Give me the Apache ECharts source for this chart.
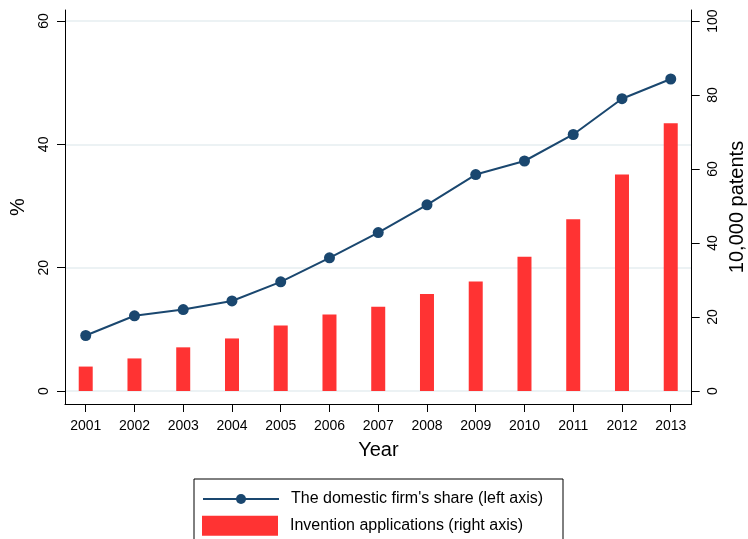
<!DOCTYPE html>
<html>
<head>
<meta charset="utf-8">
<script src="https://cdn.jsdelivr.net/npm/echarts@6/dist/echarts.min.js"></script>
<style>
html,body{margin:0;padding:0;background:#fff;}
#chart{width:748px;height:539px;}
</style>
</head>
<body>
<div id="chart"></div>
<script>
const years = [2001, 2002, 2003, 2004, 2005, 2006, 2007, 2008, 2009, 2010, 2011, 2012, 2013];
const domesticShare = [9.0, 12.2, 13.2, 14.6, 17.7, 21.6, 25.7, 30.2, 35.1, 37.3, 41.6, 47.4, 50.6];
const inventionApps = [6.6, 8.8, 11.8, 14.2, 17.7, 20.7, 22.8, 26.2, 29.6, 36.3, 46.4, 58.5, 72.4];
const leftTicks = [0, 20, 40, 60];
const rightTicks = [0, 20, 40, 60, 80, 100];
const lineName = "The domestic firm's share (left axis)";
const barName = "Invention applications (right axis)";

const FONT = "'Liberation Sans', Arial, sans-serif";
const chart = echarts.init(document.getElementById('chart'), null, {renderer: 'canvas'});

const axisCommon = {
  axisLine: {show: true, onZero: false, lineStyle: {color: '#000', width: 1}},
  nameTextStyle: {fontFamily: FONT, fontSize: 20, color: '#000'}
};

chart.setOption({
  animation: false,
  backgroundColor: '#fff',
  textStyle: {fontFamily: FONT},
  grid: {left: 65, right: 56.3, top: 10, bottom: 135, containLabel: false, outerBoundsMode: 'none'},
  xAxis: {
    type: 'value',
    min: 2000.575,
    max: 2013.43,
    axisLine: {show: true, onZero: false, lineStyle: {color: '#000', width: 1}},
    axisTick: {show: true, length: 8, customValues: years, lineStyle: {color: '#000'}},
    axisLabel: {customValues: years, formatter: v => String(v), fontSize: 14, color: '#000', margin: 15, fontFamily: FONT},
    splitLine: {show: false},
    name: 'Year',
    nameLocation: 'middle',
    nameGap: 36,
    nameTextStyle: {fontFamily: FONT, fontSize: 20, color: '#000'}
  },
  yAxis: [
    Object.assign({}, axisCommon, {
      type: 'value',
      position: 'left',
      min: -2.11,
      max: 61.79,
      axisTick: {show: true, length: 8, customValues: leftTicks, lineStyle: {color: '#000'}},
      axisLabel: {customValues: leftTicks, rotate: 90, fontSize: 14, color: '#000', margin: 14, fontFamily: FONT},
      splitLine: {show: true, lineStyle: {color: '#e6eef0', width: 1.5}},
      name: '%',
      nameLocation: 'middle',
      nameRotate: 90,
      nameGap: 37
    }),
    Object.assign({}, axisCommon, {
      type: 'value',
      position: 'right',
      min: -3.517,
      max: 102.98,
      axisTick: {show: true, length: 8, customValues: rightTicks, lineStyle: {color: '#000'}},
      axisLabel: {customValues: rightTicks, rotate: 90, fontSize: 14, color: '#000', margin: 14, fontFamily: FONT},
      splitLine: {show: false},
      name: '10,000 patents',
      nameLocation: 'middle',
      nameRotate: 90,
      nameGap: 34
    })
  ],
  legend: [
    {
      data: [{name: barName, icon: 'rect'}],
      orient: 'vertical',
      left: 194,
      top: 479,
      padding: [36.7, 40, 20, 8],
      itemWidth: 76,
      itemHeight: 20,
      borderColor: '#000',
      borderWidth: 1,
      borderRadius: 0,
      selectedMode: false,
      textStyle: {fontFamily: FONT, fontSize: 16, color: '#000', padding: [0, 0, 0, 7]}
    },
    {
      data: [lineName],
      orient: 'vertical',
      left: 202,
      top: 491,
      padding: 0,
      itemWidth: 76,
      itemHeight: 12.5,
      selectedMode: false,
      textStyle: {fontFamily: FONT, fontSize: 16, color: '#000', padding: [0, 0, 0, 7]}
    }
  ],
  series: [
    {
      name: barName,
      type: 'bar',
      yAxisIndex: 1,
      barWidth: 14,
      itemStyle: {color: '#ff3333'},
      data: years.map((y, i) => [y, inventionApps[i]]),
      z: 2
    },
    {
      name: lineName,
      type: 'line',
      yAxisIndex: 0,
      symbol: 'circle',
      symbolSize: 11,
      lineStyle: {color: '#1a476f', width: 2},
      itemStyle: {color: '#1a476f'},
      data: years.map((y, i) => [y, domesticShare[i]]),
      z: 3
    }
  ]
});
</script>
</body>
</html>
